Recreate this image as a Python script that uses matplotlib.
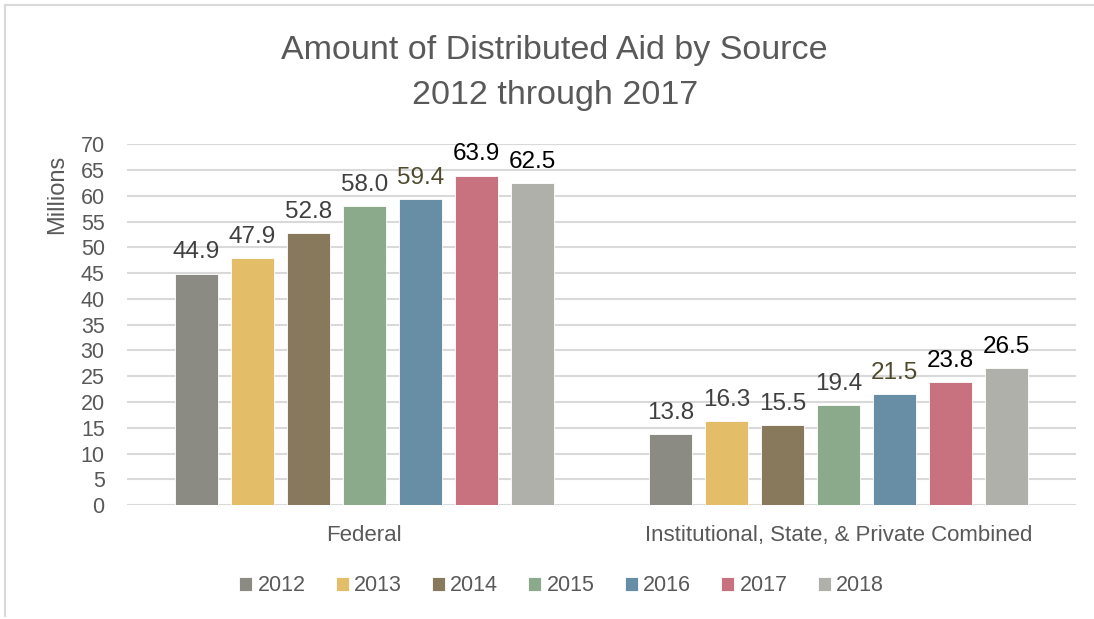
import matplotlib.pyplot as plt
import numpy as np

categories = ["Federal", "Institutional, State, & Private Combined"]
years = ["2012", "2013", "2014", "2015", "2016", "2017", "2018"]
values = {
    "2012": [44.9, 13.8],
    "2013": [47.9, 16.3],
    "2014": [52.8, 15.5],
    "2015": [58.0, 19.4],
    "2016": [59.4, 21.5],
    "2017": [63.9, 23.8],
    "2018": [62.5, 26.5],
}
colors = ["#8b8b83", "#e3bd68", "#88795d", "#8baa8b", "#688ea5", "#c87280", "#b0b0ab"]
label_colors = ["#404040", "#404040", "#404040", "#404040", "#4f4a2e", "#000000", "#000000"]

plt.rcParams["font.family"] = ["Liberation Sans", "DejaVu Sans"]

fig = plt.figure(figsize=(10.94, 6.19), dpi=100)
ax = fig.add_axes([0.116, 0.184, 0.8675, 0.583])

x = np.arange(len(categories))
width = 0.0906
step = 0.118
for i, yr in enumerate(years):
    off = (i - 3) * step
    bars = ax.bar(x + off, values[yr], width, color=colors[i], label=yr,
                  edgecolor="white", linewidth=0.6, zorder=3)
    for b, v in zip(bars, values[yr]):
        ax.text(b.get_x() + b.get_width() / 2, v + 2.0, "%.1f" % v,
                ha="center", va="bottom", fontsize=17.5, color=label_colors[i])

ax.set_xlim(-0.5, 1.5)
ax.set_ylim(0, 70)
ax.set_yticks(range(0, 71, 5))
ax.tick_params(axis="y", length=0, labelsize=15.5, labelcolor="#595959", pad=16)
ax.tick_params(axis="x", length=0, labelsize=16, labelcolor="#595959", pad=14)
ax.set_xticks(x)
ax.set_xticklabels(categories)
ax.grid(axis="y", color="#d9d9d9", linewidth=1.5, zorder=0)
for s in ax.spines.values():
    s.set_visible(False)

ax.set_ylabel("Millions", fontsize=17, color="#595959")
ax.yaxis.set_label_coords(-0.062, 0.86)

fig.text(0.507, 0.918, "Amount of Distributed Aid by Source", ha="center", va="center",
         fontsize=24.5, color="#595959")
fig.text(0.507, 0.846, "2012 through 2017", ha="center", va="center",
         fontsize=24.5, color="#595959")

ax.legend(loc="center", bbox_to_anchor=(0.458, -0.224), ncol=7, frameon=False,
          fontsize=15.5, labelcolor="#595959", handlelength=0.6, handleheight=0.6,
          handletextpad=0.25, columnspacing=1.4)

# chart border on the top and left edges
fig.add_artist(plt.Line2D([0.005, 1], [0.992, 0.992], color="#d9d9d9", linewidth=1.5))
fig.add_artist(plt.Line2D([0.005, 0.005], [0.005, 0.992], color="#d9d9d9", linewidth=1.5))

fig.savefig("out.png", dpi=100)
